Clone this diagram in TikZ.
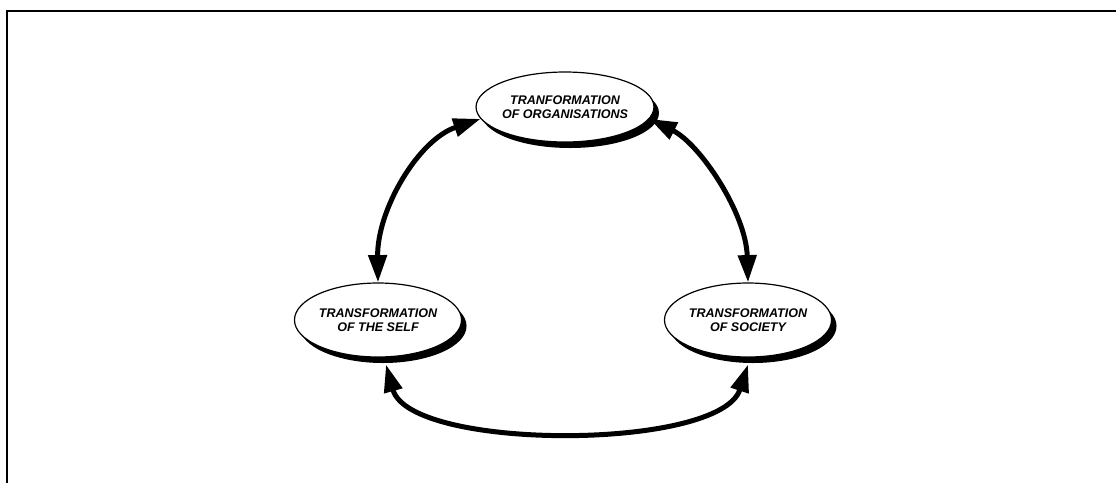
\documentclass[tikz,border=0pt]{standalone}
\usepackage{fontspec}
\setmainfont{Liberation Sans}
\usetikzlibrary{shapes.geometric,arrows.meta,shadows,calc}
\begin{document}
\begin{tikzpicture}[x=0.75pt,y=-0.75pt,
  stage/.style={ellipse, draw=black, line width=0.9pt, fill=white, inner sep=0pt,
    align=center, font=\fontsize{9.4}{10.6}\selectfont\bfseries\itshape,
    drop shadow={shadow xshift=3.75pt, shadow yshift=-4.5pt, fill=black, opacity=1}},
  link/.style={line width=3.75pt,
    arrows={Triangle[length=20.5pt,width=13.5pt]-Triangle[length=20.5pt,width=13.5pt]}},
  frame/.style={line width=1.5pt}]
\useasboundingbox (0,0) rectangle (1116,483);

% open frame: top and left edges only
\draw[frame] (1116,11) -- (7,11) -- (7,483);

% the three transformations
\node[stage, minimum width=132pt, minimum height=52.5pt] (org) at (565,107)
  {TRANFORMATION\\OF ORGANISATIONS};
\node[stage, minimum width=120pt, minimum height=55.5pt] (self) at (378,320)
  {TRANSFORMATION\\OF THE SELF};
\node[stage, minimum width=120pt, minimum height=55.5pt] (soc) at (748,320)
  {TRANSFORMATION\\OF SOCIETY};

% two-way links between them
\draw[link] (self.north) .. controls (377,210) and (418,140) .. (org.188);
\draw[link] (org.-8) .. controls (700,144) and (746,213) .. (soc.north);
\draw[link] ($(self.south)+(8,7)$) .. controls (410,451) and (720,451) .. ($(soc.south)+(0,7)$);
\end{tikzpicture}
\end{document}
